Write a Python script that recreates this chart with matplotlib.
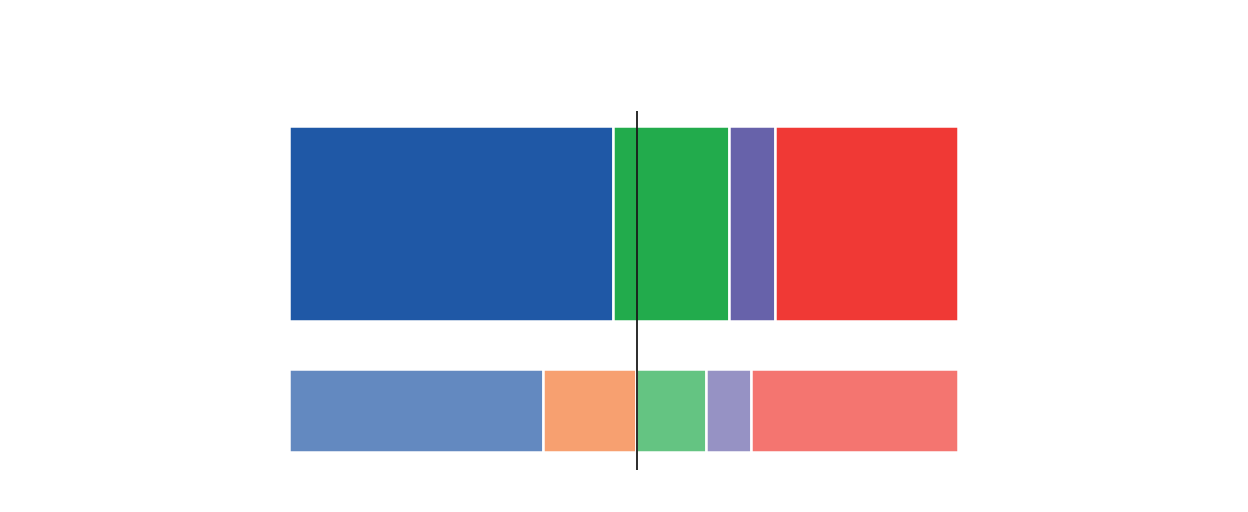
import numpy as np
import matplotlib
matplotlib.use("Agg")
import matplotlib.pyplot as plt

# shares (%) per row
top_values = [48.4, 17.3, 6.9, 27.4]
top_colors = ["#1f58a6", "#22ab4c", "#6762aa", "#f03935"]

bottom_values = [38.0, 13.9, 10.4, 6.8, 30.9]
bottom_colors = ["#6389c0", "#f7a070", "#64c482", "#9692c4", "#f47570"]

majority = 52.0

fig = plt.figure(figsize=(12.48, 5.12), dpi=100)
ax = fig.add_axes([0, 0, 1, 1])

def stacked(ax, y, values, colors, height):
    left = 0
    for v, c in zip(values, colors):
        ax.barh(y, v, left=left, height=height, color=c,
                edgecolor="white", linewidth=1.8)
        left += v

stacked(ax, 0, top_values, top_colors, 1.04)
stacked(ax, 1, bottom_values, bottom_colors, 0.444)

ax.vlines(majority, -0.60, 1.318, color="#1a1a1a", linewidth=1.3, zorder=5)

ax.set_xlim(-43.2, 143.35)
ax.set_ylim(1.540, -1.195)
ax.axis("off")

fig.savefig("out.png", dpi=100)
